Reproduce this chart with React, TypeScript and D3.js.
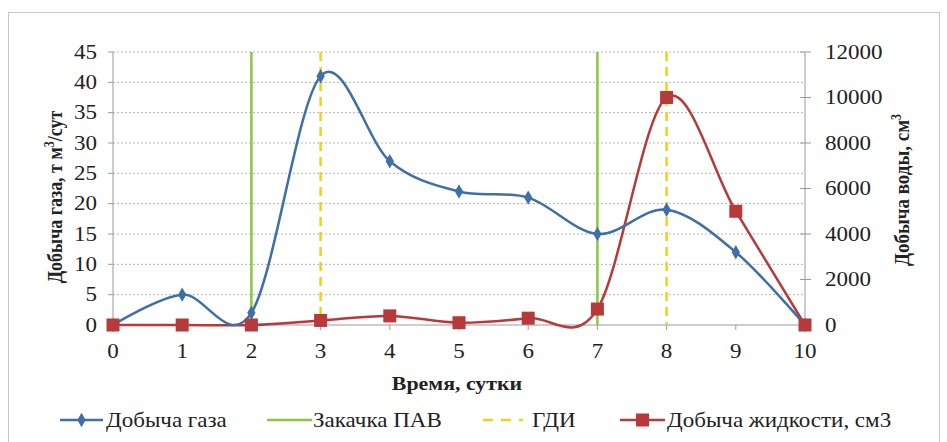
import * as d3 from "d3";
import type { ReactNode } from "react";

const days = [0, 1, 2, 3, 4, 5, 6, 7, 8, 9, 10];
const gasValues = [0, 5, 2, 41, 27, 22, 21, 15, 19, 12, 0];
const liquidValues = [0, 0, 0, 200, 400, 100, 300, 700, 10000, 5000, 0];
const injectionDays = [2, 7];
const testDays = [3, 8];
const leftTicks = [0, 5, 10, 15, 20, 25, 30, 35, 40, 45];
const rightTicks = [0, 2000, 4000, 6000, 8000, 10000, 12000];
const legendItems = ["Добыча газа", "Закачка ПАВ", "ГДИ", "Добыча жидкости, см3"];

const BLUE = "#3f6fa8";
const RED = "#b8393a";
const GREEN = "#8cc63f";
const YELLOW = "#f3d01c";
const AXIS = "#9a9a9a";
const TEXT = "#222";
const FONT = "Liberation Serif";
const SX = 1.15; // the source picture is a little wider than tall

const width = 947;
const height = 442;
const margin = { top: 52, right: 142, bottom: 117, left: 113 };
const innerW = width - margin.left - margin.right;
const innerH = height - margin.top - margin.bottom;

function Txt({
  x,
  y,
  anchor = "start",
  size = 20,
  bold = false,
  rotate = 0,
  dy,
  children,
}: {
  x: number;
  y: number;
  anchor?: "start" | "middle" | "end";
  size?: number;
  bold?: boolean;
  rotate?: number;
  dy?: string;
  children: ReactNode;
}) {
  const t = rotate
    ? `translate(${x},${y}) scale(${SX},1) rotate(${rotate})`
    : `translate(${x},${y}) scale(${SX},1)`;
  return (
    <text
      transform={t}
      textAnchor={anchor}
      dy={dy}
      fill={TEXT}
      style={{ fontFamily: FONT, fontSize: size, fontWeight: bold ? "bold" : "normal" }}
    >
      {children}
    </text>
  );
}

export default function App() {
  const x = d3.scaleLinear().domain([0, 10]).range([0, innerW]);
  const yL = d3.scaleLinear().domain([0, 45]).range([innerH, 0]);
  const yR = d3.scaleLinear().domain([0, 12000]).range([innerH, 0]);

  const curve = d3.curveCardinal.tension(0);
  const gasPath = d3
    .line<number>()
    .x((_, i) => x(days[i]))
    .y((d) => yL(d))
    .curve(curve)(gasValues);
  const liquidPath = d3
    .line<number>()
    .x((_, i) => x(days[i]))
    .y((d) => yR(d))
    .curve(curve)(liquidValues);
  const diamond = d3.symbol().type(d3.symbolDiamond).size(60)() as string;

  const legendLine = [
    [60, 103],
    [267, 312],
    [483, 523],
    [620, 665],
  ];
  const legendText = [106, 313, 532, 667];
  const legendColors = [BLUE, GREEN, YELLOW, RED];
  const ly = 420;

  return (
    <svg
      width={width}
      height={height}
      style={{ position: "absolute", left: 0, top: 0, display: "block" }}
    >
      <rect x={8.5} y={12.5} width={931} height={440} fill="#fff" stroke="#c8c8c8" />
      <g transform={`translate(${margin.left},${margin.top})`}>
        {leftTicks.slice(1).map((t) => (
          <line
            key={`g${t}`}
            x1={0}
            x2={innerW}
            y1={yL(t)}
            y2={yL(t)}
            stroke="#b5b5b5"
            strokeDasharray="2,2"
          />
        ))}

        {/* left axis */}
        <line x1={0} x2={0} y1={0} y2={innerH} stroke={AXIS} />
        {leftTicks.map((t) => (
          <g key={`l${t}`}>
            <line x1={-5} x2={0} y1={yL(t)} y2={yL(t)} stroke={AXIS} />
            <Txt x={-16} y={yL(t)} anchor="end" dy="0.33em">
              {t}
            </Txt>
          </g>
        ))}

        {/* right axis */}
        <line x1={innerW} x2={innerW} y1={0} y2={innerH} stroke={AXIS} />
        {rightTicks.map((t) => (
          <g key={`r${t}`}>
            <line x1={innerW - 5} x2={innerW + 6} y1={yR(t)} y2={yR(t)} stroke={AXIS} />
            <Txt x={innerW + 20} y={yR(t)} dy="0.33em">
              {d3.format("d")(t)}
            </Txt>
          </g>
        ))}

        {/* bottom axis */}
        <line x1={0} x2={innerW} y1={innerH} y2={innerH} stroke={AXIS} />
        {days.map((t) => (
          <g key={`b${t}`}>
            <line x1={x(t)} x2={x(t)} y1={innerH} y2={innerH + 5} stroke={AXIS} />
            <Txt x={x(t)} y={innerH + 33} anchor="middle">
              {t}
            </Txt>
          </g>
        ))}

        {injectionDays.map((d) => (
          <line key={`i${d}`} x1={x(d)} x2={x(d)} y1={0} y2={innerH} stroke={GREEN} strokeWidth={2.5} />
        ))}
        {testDays.map((d) => (
          <line
            key={`t${d}`}
            x1={x(d)}
            x2={x(d)}
            y1={0}
            y2={innerH}
            stroke={YELLOW}
            strokeWidth={2.5}
            strokeDasharray="9,6"
          />
        ))}

        <path d={liquidPath ?? ""} fill="none" stroke={RED} strokeWidth={2.5} />
        <path d={gasPath ?? ""} fill="none" stroke={BLUE} strokeWidth={2.5} />

        {gasValues.map((v, i) => (
          <path key={`d${i}`} d={diamond} transform={`translate(${x(days[i])},${yL(v)})`} fill={BLUE} />
        ))}
        {liquidValues.map((v, i) => (
          <rect key={`s${i}`} x={x(days[i]) - 6.5} y={yR(v) - 6.5} width={13} height={13} fill={RED} />
        ))}
      </g>

      {/* axis titles */}
      <Txt x={62} y={197} anchor="middle" size={18} bold rotate={-90}>
        <tspan>Добыча газа, т м</tspan>
        <tspan dy={-7} style={{ fontSize: 12 }}>3</tspan>
        <tspan dy={7}>/сут</tspan>
      </Txt>
      <Txt x={909} y={190} anchor="middle" size={19} bold rotate={-90}>
        <tspan>Добыча воды, см</tspan>
        <tspan dy={-7} style={{ fontSize: 12 }}>3</tspan>
      </Txt>
      <Txt x={margin.left + innerW / 2 - 2} y={390} anchor="middle" size={19} bold>
        Время, сутки
      </Txt>

      {/* legend */}
      {legendItems.map((label, i) => {
        const [a, b] = legendLine[i];
        const mid = (a + b) / 2;
        return (
          <g key={label}>
            <line
              x1={a}
              x2={b}
              y1={ly}
              y2={ly}
              stroke={legendColors[i]}
              strokeWidth={2.5}
              strokeDasharray={i === 2 ? "10,8" : undefined}
            />
            {i === 0 && <path d={diamond} transform={`translate(${mid},${ly})`} fill={BLUE} />}
            {i === 3 && <rect x={mid - 6.5} y={ly - 6.5} width={13} height={13} fill={RED} />}
            <Txt x={legendText[i]} y={ly + 7}>
              {label}
            </Txt>
          </g>
        );
      })}
    </svg>
  );
}
